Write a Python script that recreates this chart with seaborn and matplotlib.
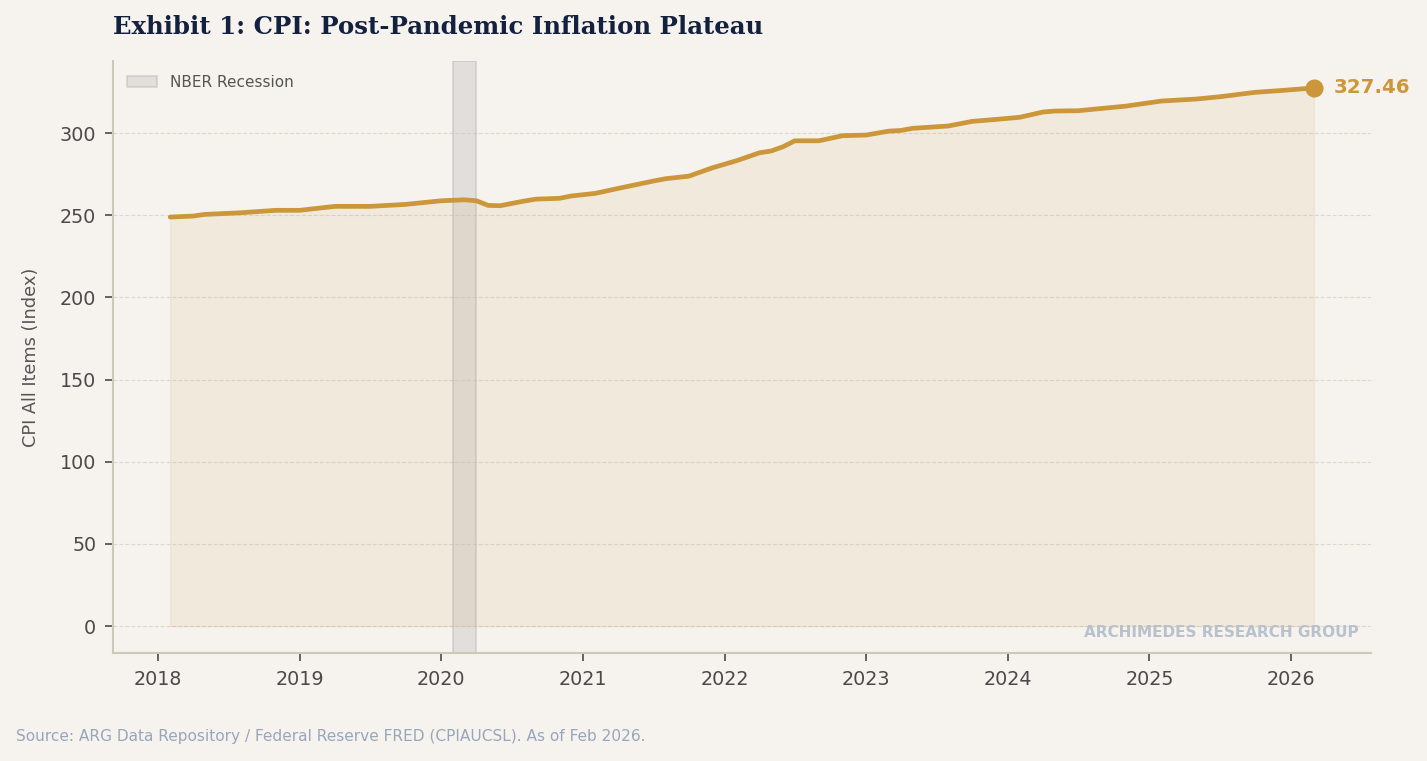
import pandas as pd
import seaborn as sns
import matplotlib.pyplot as plt
import matplotlib.dates as mdates

# CPI readings taken off the reference chart
dates = ["2018-02", "2018-04", "2018-05", "2018-08", "2018-11", "2019-01", "2019-04",
         "2019-07", "2019-10", "2020-01", "2020-03", "2020-04", "2020-05", "2020-06",
         "2020-08", "2020-09", "2020-11", "2020-12", "2021-02", "2021-04", "2021-07",
         "2021-08", "2021-10", "2021-12", "2022-02", "2022-04", "2022-05", "2022-06",
         "2022-07", "2022-09", "2022-11", "2023-01", "2023-03", "2023-04", "2023-05",
         "2023-08", "2023-10", "2023-12", "2024-02", "2024-04", "2024-05", "2024-07",
         "2024-11", "2025-02", "2025-05", "2025-07", "2025-10", "2025-12", "2026-03"]
cpi = [248.9, 249.5, 250.5, 251.5, 253.0, 253.0, 255.4,
       255.4, 256.6, 258.8, 259.4, 258.8, 256.0, 255.8,
       258.6, 259.8, 260.3, 261.7, 263.3, 266.3, 270.8,
       272.2, 273.8, 278.9, 283.2, 288.0, 289.1, 291.7,
       295.3, 295.3, 298.4, 298.8, 301.2, 301.6, 302.9,
       304.3, 307.1, 308.3, 309.6, 312.8, 313.4, 313.6,
       316.4, 319.5, 320.7, 322.1, 324.8, 325.8, 327.46]
recession = ("2020-02-01", "2020-04-01")

df = pd.DataFrame({"date": pd.to_datetime(dates), "cpi": cpi})

bg = "#f6f3ee"
gold = "#cc963a"

sns.set_theme(style="white")
plt.rcParams["font.family"] = ["DejaVu Sans"]

fig = plt.figure(figsize=(14.27, 7.61), dpi=100, facecolor=bg)
ax = fig.add_axes([0.0792, 0.1419, 0.8816, 0.7779], facecolor=bg)

ax.axvspan(pd.Timestamp(recession[0]), pd.Timestamp(recession[1]),
           facecolor="#c8c8c8", edgecolor="#b0b0b0", alpha=0.45, lw=1.2,
           label="NBER Recession", zorder=1)
ax.fill_between(df["date"], 0, df["cpi"], color=gold, alpha=0.1, lw=1, zorder=2)
sns.lineplot(data=df, x="date", y="cpi", ax=ax, color=gold, lw=3.4, zorder=3)

last = df.iloc[-1]
ax.plot(last["date"], last["cpi"], "o", color=gold, ms=12, zorder=4)
ax.annotate(f"{last['cpi']:.2f}", (last["date"], last["cpi"]), xytext=(14, 0),
            textcoords="offset points", va="center", ha="left",
            fontsize=14.2, fontweight="bold", color=gold, annotation_clip=False)

ax.xaxis.set_major_locator(mdates.YearLocator())
ax.xaxis.set_major_formatter(mdates.DateFormatter("%Y"))
ax.set_xlabel("")
ax.set_ylabel("CPI All Items (Index)", fontsize=12.8, color="#555555", labelpad=14)
ax.tick_params(axis="both", labelsize=13.8, colors="#4a4a4a", length=6, width=1.2,
               bottom=True, left=True, pad=6)
ax.yaxis.grid(True, ls="--", color="#ddd8cc", lw=0.8)
ax.xaxis.grid(False)

sns.despine(ax=ax)
for s in ["left", "bottom"]:
    ax.spines[s].set_color("#cdc9b9")
    ax.spines[s].set_linewidth(1.5)

leg = ax.legend(loc="upper left", frameon=False, fontsize=11, handlelength=2.0,
                borderaxespad=0.5)
for t in leg.get_texts():
    t.set_color("#555555")

ax.text(0.99, 0.035, "ARCHIMEDES RESEARCH GROUP", transform=ax.transAxes,
        ha="right", va="center", fontsize=11, fontweight="bold", color="#b9c1cc")

fig.text(0.0792, 0.965, "Exhibit 1: CPI: Post-Pandemic Inflation Plateau",
         family="DejaVu Serif", fontsize=17.6, fontweight="bold", color="#13213f",
         ha="left", va="center")
fig.text(0.011, 0.032, "Source: ARG Data Repository / Federal Reserve FRED (CPIAUCSL). As of Feb 2026.",
         fontsize=11.1, color="#98a6bb", ha="left", va="center")

fig.savefig("out.png", dpi=100, facecolor=bg)
